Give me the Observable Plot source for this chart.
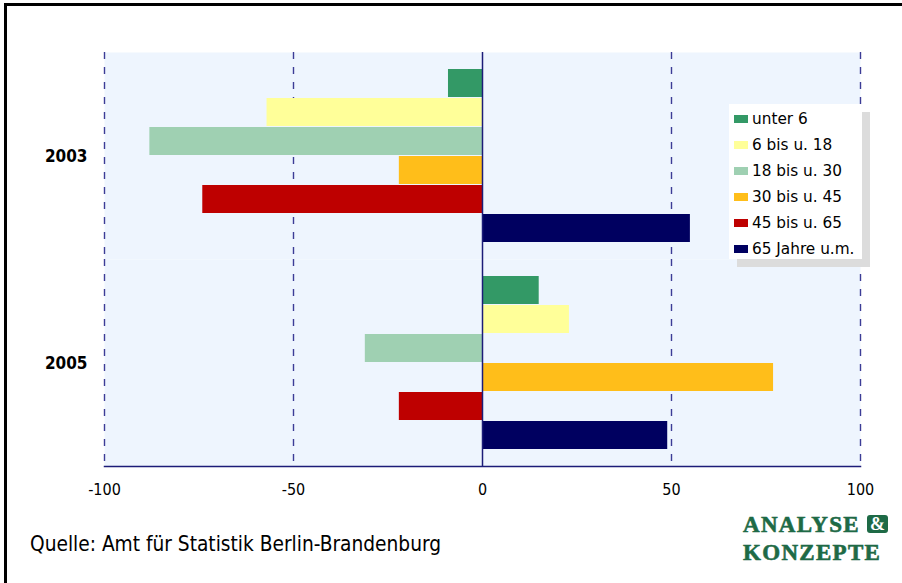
<!DOCTYPE html>
<html>
<head>
<meta charset="utf-8">
<script src="https://cdn.jsdelivr.net/npm/d3@7"></script>
<script src="https://cdn.jsdelivr.net/npm/@observablehq/plot@0.6"></script>
<style>
  html, body { margin: 0; padding: 0; background: #fff; }
  #wrap { position: relative; width: 902px; height: 583px; overflow: hidden;
          font-family: Tahoma, "DejaVu Sans Condensed", "DejaVu Sans", sans-serif; }
  #border { position: absolute; left: 4px; top: 3px; right: -10px; bottom: -10px;
            border-left: 3px solid #000; border-top: 3px solid #000; }
  #chart { position: absolute; left: 0; top: 0; }
  #legend { position: absolute; left: 729px; top: 104px; width: 133px; height: 155px;
            background: #fff; box-shadow: 8px 8px 0 #dcdcdc; }
  .row { position: absolute; left: 5px; height: 26px; display: flex; align-items: center;
         font-family: Tahoma, "DejaVu Sans", sans-serif;
         font-size: 15.3px; color: #000; white-space: nowrap; }
  .sw { width: 14px; height: 8px; margin-right: 4px; }
  #source { position: absolute; left: 30px; top: 532px; font-size: 20.7px; color: #000; }
  #logo { position: absolute; left: 743px; top: 511px; font-family: "Liberation Serif", serif;
          font-weight: bold; color: #1e6a46; font-size: 23px; line-height: 28px; letter-spacing: 1.3px;
          -webkit-text-stroke: 0.6px #1e6a46; }
  #logo .amp { display: inline-block; background: #1e6a46; color: #fff; border-radius: 3px;
               width: 21px; height: 18px; line-height: 19px; text-align: center; font-size: 18px;
               letter-spacing: 0; margin-left: 7px; vertical-align: 2px; -webkit-text-stroke: 0; }
</style>
</head>
<body>
<div id="wrap">
  <div id="border"></div>
  <div id="chart"></div>
  <div id="legend"></div>
  <div id="source">Quelle: Amt für Statistik Berlin-Brandenburg</div>
  <div id="logo">ANALYSE<span class="amp">&amp;</span><br>KONZEPTE</div>
</div>
<script>
// Change per age group, by year
const years = ["2003", "2005"];
const groups = ["unter 6", "6 bis u. 18", "18 bis u. 30", "30 bis u. 45", "45 bis u. 65", "65 Jahre u.m."];
const groupColors = ["#339966", "#ffff99", "#9fd0b2", "#ffbe1a", "#be0000", "#000060"];
const values2003 = [-9, -57, -88, -22, -74, 55];
const values2005 = [15, 23, -31, 77, -22, 49];
const xTicks = [-100, -50, 0, 50, 100];

const rows = [];
groups.forEach((g, i) => {
  rows.push({year: "2003", group: g, value: values2003[i]});
  rows.push({year: "2005", group: g, value: values2005[i]});
});

const FONT = 'Tahoma, "DejaVu Sans Condensed", "DejaVu Sans", sans-serif';
const NAVY = "#1c1c78";

const chart = Plot.plot({
  width: 902,
  height: 510,
  marginLeft: 104,
  marginRight: 42,
  marginTop: 52,
  marginBottom: 44,
  style: {fontFamily: FONT, fontSize: "15px", color: "#000", background: "transparent"},
  x: {domain: [-100, 100]},
  y: {domain: groups, axis: null, paddingInner: 0.03, paddingOuter: 0.56},
  fy: {domain: years, padding: 0},
  color: {domain: groups, range: groupColors},
  marks: [
    Plot.frame({fill: "#eef5fe"}),
    Plot.ruleX(xTicks.filter(d => d !== 0), {stroke: "#3c3c96", strokeWidth: 1.4, strokeDasharray: "7,8"}),
    Plot.barX(rows, {fy: "year", y: "group", x: "value", fill: "group"}),
    Plot.ruleX([0], {stroke: NAVY, strokeWidth: 1.5}),
    Plot.frame({anchor: "bottom", stroke: NAVY, strokeWidth: 1.5, facet: "super"}),
    Plot.axisX({ticks: xTicks, tickSize: 0, tickPadding: 17, label: null, fontSize: 16,
                tickFormat: d => String(d)}),
    Plot.axisFy({anchor: "left", tickSize: 0, tickPadding: 17, label: null, fontWeight: "bold", fontSize: 17, dy: 1})
  ]
});
document.getElementById("chart").appendChild(chart);

// Legend built from the same groups and colours
const legend = document.getElementById("legend");
groups.forEach((g, i) => {
  const row = document.createElement("div");
  row.className = "row";
  row.style.top = (2 + i * 26) + "px";
  const sw = document.createElement("span");
  sw.className = "sw";
  sw.style.background = groupColors[i];
  const label = document.createElement("span");
  label.textContent = g;
  row.appendChild(sw);
  row.appendChild(label);
  legend.appendChild(row);
});
</script>
</body>
</html>
